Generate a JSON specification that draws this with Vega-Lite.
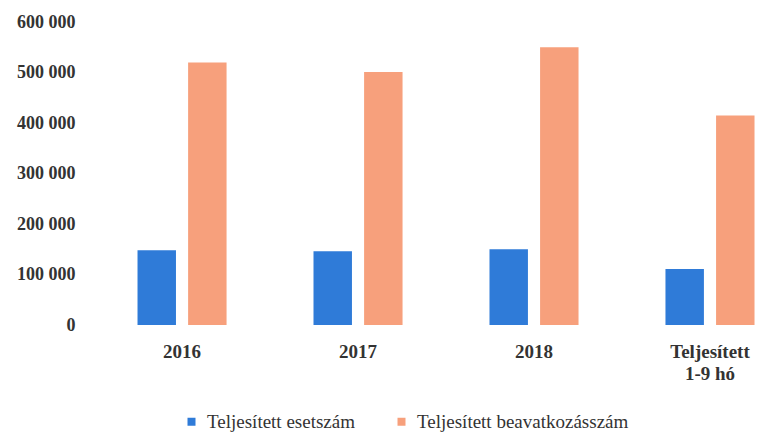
{
  "$schema": "https://vega.github.io/schema/vega-lite/v6.json",
  "autosize": {"type": "none"},
  "width": 663,
  "height": 303,
  "padding": {"left": 94, "top": 22, "right": 0, "bottom": 107},
  "background": "white",
  "data": {
    "values": [
      {"kategoria": "2016", "sorozat": "Teljesített esetszám", "ertek": 148000},
      {"kategoria": "2016", "sorozat": "Teljesített beavatkozásszám", "ertek": 520000},
      {"kategoria": "2017", "sorozat": "Teljesített esetszám", "ertek": 146000},
      {"kategoria": "2017", "sorozat": "Teljesített beavatkozásszám", "ertek": 501000},
      {"kategoria": "2018", "sorozat": "Teljesített esetszám", "ertek": 150000},
      {"kategoria": "2018", "sorozat": "Teljesített beavatkozásszám", "ertek": 550000},
      {"kategoria": "Teljesített 1-9 hó", "sorozat": "Teljesített esetszám", "ertek": 111000},
      {"kategoria": "Teljesített 1-9 hó", "sorozat": "Teljesített beavatkozásszám", "ertek": 415000}
    ]
  },
  "mark": {"type": "bar"},
  "encoding": {
    "x": {
      "field": "kategoria",
      "type": "nominal",
      "sort": null,
      "scale": {"paddingInner": 0.494, "paddingOuter": 0.1307, "align": 0.946},
      "axis": {
        "title": null,
        "labelAngle": 0,
        "domain": false,
        "ticks": false,
        "labelPadding": 17,
        "labelFont": "Liberation Serif",
        "labelFontWeight": "bold",
        "labelFontSize": 19,
        "labelColor": "#333333",
        "labelLineHeight": 22,
        "labelExpr": "datum.label == 'Teljesített 1-9 hó' ? ['Teljesített', '1-9 hó'] : datum.label"
      }
    },
    "xOffset": {
      "field": "sorozat",
      "type": "nominal",
      "sort": ["Teljesített esetszám", "Teljesített beavatkozásszám"],
      "scale": {"paddingInner": 0.24, "paddingOuter": 0}
    },
    "y": {
      "field": "ertek",
      "type": "quantitative",
      "scale": {"domain": [0, 600000], "nice": false},
      "axis": {
        "title": null,
        "values": [0, 100000, 200000, 300000, 400000, 500000, 600000],
        "labelExpr": "replace(format(datum.value, ','), ',', ' ')",
        "grid": false,
        "domain": false,
        "ticks": false,
        "labelPadding": 19,
        "labelFont": "Liberation Serif",
        "labelFontWeight": "bold",
        "labelFontSize": 18,
        "labelColor": "#333333"
      }
    },
    "color": {
      "field": "sorozat",
      "type": "nominal",
      "sort": ["Teljesített esetszám", "Teljesített beavatkozásszám"],
      "scale": {"range": ["#2f7bd8", "#f7a07c"]},
      "legend": {
        "title": null,
        "orient": "none",
        "direction": "horizontal",
        "legendX": 88,
        "legendY": 390,
        "symbolType": "square",
        "symbolSize": 64,
        "symbolStrokeWidth": 0,
        "labelFont": "Liberation Serif",
        "labelFontSize": 19,
        "labelColor": "#333333",
        "labelOffset": 6,
        "columnPadding": 37,
        "padding": 0,
        "labelLimit": 400
      }
    }
  },
  "config": {
    "font": "Liberation Serif",
    "view": {"stroke": null},
    "legend": {"labelFont": "Liberation Serif"}
  }
}
